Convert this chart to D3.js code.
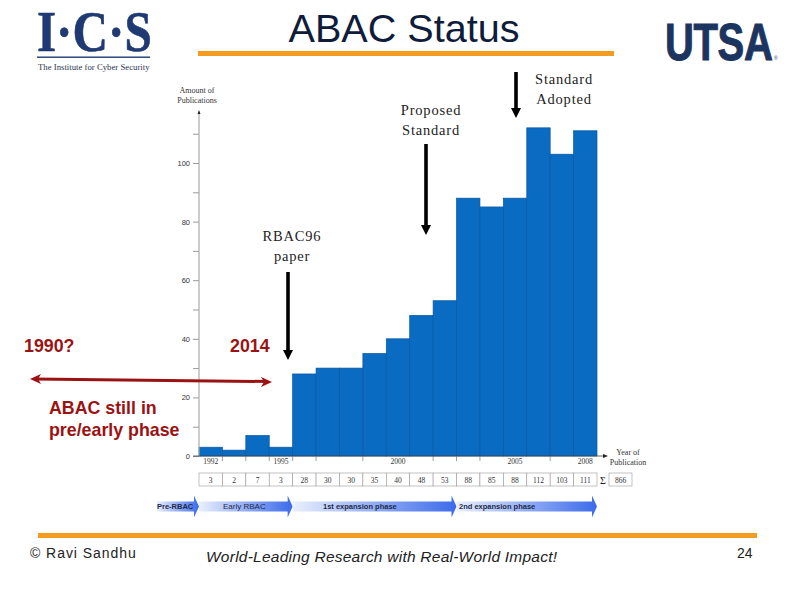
<!DOCTYPE html>
<html>
<head>
<meta charset="utf-8">
<script src="https://cdn.jsdelivr.net/npm/d3@7"></script>
<style>
  html, body { margin: 0; padding: 0; background: #fff; }
  svg { display: block; }
  text { font-family: "Liberation Sans", sans-serif; }
  .serif { font-family: "Liberation Serif", serif; }
  .note { font-family: "Liberation Serif", serif; font-size: 14.5px; letter-spacing: 0.8px; fill: #222; text-anchor: middle; }
  .red { font-weight: bold; font-size: 17.8px; fill: #9c1212; }
</style>
</head>
<body>
<div id="chart"></div>
<script>
var years = [1992, 1993, 1994, 1995, 1996, 1997, 1998, 1999, 2000, 2001, 2002, 2003, 2004, 2005, 2006, 2007, 2008];
var counts = [3, 2, 7, 3, 28, 30, 30, 35, 40, 48, 53, 88, 85, 88, 112, 103, 111];
var yearLabels = [1992, 1995, 2000, 2005, 2008];
var edgeTickYears = [1993, 1994, 1995, 1996, 1997, 1999, 2002, 2003, 2004, 2007];
var yTicks = [0, 10, 20, 30, 40, 50, 60, 70, 80, 90, 100, 110];
var yLabels = [0, 20, 40, 60, 80, 100];
var total = '866';
var phaseNames = ['Pre-RBAC', 'Early RBAC', '1st expansion phase', '2nd expansion phase'];
var phaseStarts = [1989, 1992, 1996, 2003];
var phaseEnds = [1992, 1996, 2003, 2009];

var svg = d3.select('#chart').append('svg')
  .attr('width', 794)
  .attr('height', 595);

var navy = '#1f3a73';
var orange = '#f39c1f';
var blue = '#0a6bc2';

var x = d3.scaleBand().domain(years).range([199, 597]);
var y = d3.scaleLinear().domain([0, 100]).range([456, 163]);

// header
svg.append('text')
  .attr('x', 404).attr('y', 42)
  .attr('text-anchor', 'middle')
  .attr('font-size', 39.6)
  .attr('fill', '#101c3c')
  .text('ABAC Status');
svg.append('rect').attr('x', 198).attr('y', 51).attr('width', 416).attr('height', 5).attr('fill', orange);

// I-C-S logo
svg.append('text').attr('class', 'serif')
  .attr('transform', 'translate(37,50.5) scale(0.87,1)')
  .attr('font-size', 56.5).attr('font-weight', 'bold').attr('fill', navy)
  .attr('stroke', navy).attr('stroke-width', 0.6)
  .text('I·C·S');
svg.append('rect').attr('x', 37).attr('y', 56.5).attr('width', 113).attr('height', 1.4).attr('fill', navy);
svg.append('text').attr('class', 'serif')
  .attr('transform', 'translate(38,70) scale(1.065,1)')
  .attr('font-size', 8.2).attr('fill', '#2a3350')
  .text('The Institute for Cyber Security');

// UTSA logo
svg.append('text')
  .attr('transform', 'translate(665,60) scale(0.77,1)')
  .attr('font-size', 52).attr('font-weight', 'bold').attr('fill', '#1c3560')
  .attr('stroke', '#1c3560').attr('stroke-width', 1)
  .attr('letter-spacing', -0.5)
  .text('UTSA');
svg.append('text').attr('x', 774).attr('y', 60).attr('font-size', 5).attr('fill', '#1c3560').text('®');

// bars
svg.append('g').selectAll('rect').data(counts)
  .enter().append('rect')
  .attr('x', function(d, i) { return x(years[i]); })
  .attr('y', function(d) { return y(d); })
  .attr('width', x.bandwidth())
  .attr('height', function(d) { return y(0) - y(d); })
  .attr('fill', blue)
  .attr('stroke', '#0a57a3')
  .attr('stroke-width', 0.7);

// y axis
var yAxis = d3.axisLeft(y)
  .tickValues(yTicks)
  .tickSize(6)
  .tickFormat(function(d) { return yLabels.indexOf(d) >= 0 ? d : ''; });
var yG = svg.append('g').attr('transform', 'translate(199,0)').call(yAxis);
yG.select('.domain').remove();
yG.selectAll('.tick line').attr('stroke', '#999');
yG.selectAll('.tick text').attr('font-size', 7.5).attr('fill', '#333').attr('font-family', null);
svg.append('line').attr('x1', 199).attr('x2', 199).attr('y1', 456).attr('y2', 113).attr('stroke', '#aaa').attr('stroke-width', 1.2);
svg.append('path').attr('d', 'M199 110L197.5 114L200.5 114Z').attr('fill', '#222');

// x axis
svg.append('line').attr('x1', 193).attr('x2', 604).attr('y1', 456).attr('y2', 456).attr('stroke', '#444').attr('stroke-width', 0.8);
svg.append('path').attr('d', 'M608 456L603 454L603 458Z').attr('fill', '#222');
svg.append('g').selectAll('line').data(edgeTickYears)
  .enter().append('line')
  .attr('x1', function(d) { return x(d); })
  .attr('x2', function(d) { return x(d); })
  .attr('y1', 456).attr('y2', 461)
  .attr('stroke', '#777').attr('stroke-width', 0.7);
var xAxis = d3.axisBottom(x).tickValues(yearLabels).tickSize(0).tickPadding(3);
var xG = svg.append('g').attr('transform', 'translate(0,456)').call(xAxis);
xG.select('.domain').remove();
xG.selectAll('.tick text').attr('class', 'serif').attr('font-size', 7.5).attr('fill', '#333').attr('font-family', null);

// axis titles
svg.selectAll('text.ytitle').data(['Amount of', 'Publications'])
  .enter().append('text')
  .attr('class', 'serif ytitle')
  .attr('x', 197)
  .attr('y', function(d, i) { return 93 + i * 10; })
  .attr('text-anchor', 'middle').attr('font-size', 8).attr('fill', '#333')
  .text(function(d) { return d; });
svg.selectAll('text.xtitle').data(['Year of', 'Publication'])
  .enter().append('text')
  .attr('class', 'serif xtitle')
  .attr('x', 628)
  .attr('y', function(d, i) { return 455 + i * 10; })
  .attr('text-anchor', 'middle').attr('font-size', 8).attr('fill', '#333')
  .text(function(d) { return d; });

// table of counts
var cells = svg.append('g').selectAll('g').data(counts).enter().append('g');
cells.append('rect')
  .attr('x', function(d, i) { return x(years[i]); })
  .attr('y', 473)
  .attr('width', x.bandwidth())
  .attr('height', 13)
  .attr('fill', '#fff').attr('stroke', '#999').attr('stroke-width', 0.6);
cells.append('text')
  .attr('class', 'serif')
  .attr('x', function(d, i) { return x(years[i]) + x.bandwidth() / 2; })
  .attr('y', 482.5)
  .attr('text-anchor', 'middle').attr('font-size', 7.5).attr('fill', '#333')
  .text(function(d) { return d; });
svg.append('text').attr('class', 'serif').attr('x', 603).attr('y', 483.5).attr('text-anchor', 'middle').attr('font-size', 10).attr('fill', '#222').text('Σ');
svg.append('rect').attr('x', 609).attr('y', 473).attr('width', 23).attr('height', 13).attr('fill', '#fff').attr('stroke', '#999').attr('stroke-width', 0.6);
svg.append('text').attr('class', 'serif').attr('x', 620.5).attr('y', 482.5).attr('text-anchor', 'middle').attr('font-size', 7.5).attr('fill', '#333').text(total);

// phase arrows
var phaseX = d3.scaleLinear().domain([1992, 2009]).range([199, 597]);
var grad = svg.append('defs').append('linearGradient').attr('id', 'phaseFill');
grad.append('stop').attr('offset', '0%').attr('stop-color', '#e9effc');
grad.append('stop').attr('offset', '100%').attr('stop-color', '#3c6bea');

svg.append('g').selectAll('path').data(phaseNames)
  .enter().append('path')
  .attr('d', function(d, i) {
    var a = i === 0 ? 157 : phaseX(phaseStarts[i]);
    var b = phaseX(phaseEnds[i]);
    return 'M' + a + ' 501.5L' + (b - 5) + ' 501.5L' + (b - 5) + ' 495.5L' + b + ' 506.5L' +
      (b - 5) + ' 517.5L' + (b - 5) + ' 511.5L' + a + ' 511.5Z';
  })
  .attr('fill', 'url(#phaseFill)');
svg.append('g').selectAll('text').data(phaseNames)
  .enter().append('text')
  .attr('x', function(d, i) { return [157, 223, 323, 459][i]; })
  .attr('y', 509)
  .attr('font-size', function(d, i) { return i === 1 ? 8 : 7.5; })
  .attr('font-weight', function(d, i) { return i === 1 ? 'normal' : 'bold'; })
  .attr('fill', '#1c2a4a')
  .text(function(d) { return d; });

// black annotation arrows
function downArrow(ax, y1, y2) {
  svg.append('path')
    .attr('d', 'M' + (ax - 1.8) + ' ' + y1 + 'L' + (ax + 1.8) + ' ' + y1 + 'L' + (ax + 1.8) + ' ' + (y2 - 10) +
      'L' + (ax + 5) + ' ' + (y2 - 10) + 'L' + ax + ' ' + y2 + 'L' + (ax - 5) + ' ' + (y2 - 10) +
      'L' + (ax - 1.8) + ' ' + (y2 - 10) + 'Z')
    .attr('fill', '#000');
}
downArrow(426, 144, 235);
downArrow(516, 72, 118);
downArrow(288, 272, 360);

function note(lines, cx, top) {
  svg.selectAll(null).data(lines)
    .enter().append('text')
    .attr('class', 'note')
    .attr('x', cx)
    .attr('y', function(d, i) { return top + i * 20; })
    .text(function(d) { return d; });
}
note(['Proposed', 'Standard'], 431, 115);
note(['Standard', 'Adopted'], 564, 84);
note(['RBAC96', 'paper'], 292, 241);

// red annotation
svg.append('text').attr('class', 'red').attr('x', 24).attr('y', 352).text('1990?');
svg.append('text').attr('class', 'red').attr('x', 230).attr('y', 352).text('2014');
svg.append('text').attr('class', 'red').attr('x', 49).attr('y', 414).text('ABAC still in');
svg.append('text').attr('class', 'red').attr('x', 49).attr('y', 436).text('pre/early phase');
svg.append('line').attr('x1', 34).attr('y1', 379).attr('x2', 266).attr('y2', 381.5).attr('stroke', '#9c1212').attr('stroke-width', 3);
svg.append('path').attr('d', 'M30 379L41 374L38 379L41 384Z').attr('fill', '#9c1212');
svg.append('path').attr('d', 'M272 382L261 377L264 382L261 387Z').attr('fill', '#9c1212');

// footer
svg.append('rect').attr('x', 38).attr('y', 533).attr('width', 719).attr('height', 5).attr('fill', orange);
svg.append('text').attr('x', 30).attr('y', 558).attr('font-size', 14).attr('letter-spacing', 0.95).attr('fill', '#222').text('© Ravi  Sandhu');
svg.append('text').attr('x', 206).attr('y', 562).attr('font-size', 15.5).attr('font-style', 'italic').attr('letter-spacing', 0.24).attr('fill', '#222').text('World-Leading Research with Real-World Impact!');
svg.append('text').attr('x', 737).attr('y', 558).attr('font-size', 14).attr('fill', '#222').text('24');
</script>
</body>
</html>
